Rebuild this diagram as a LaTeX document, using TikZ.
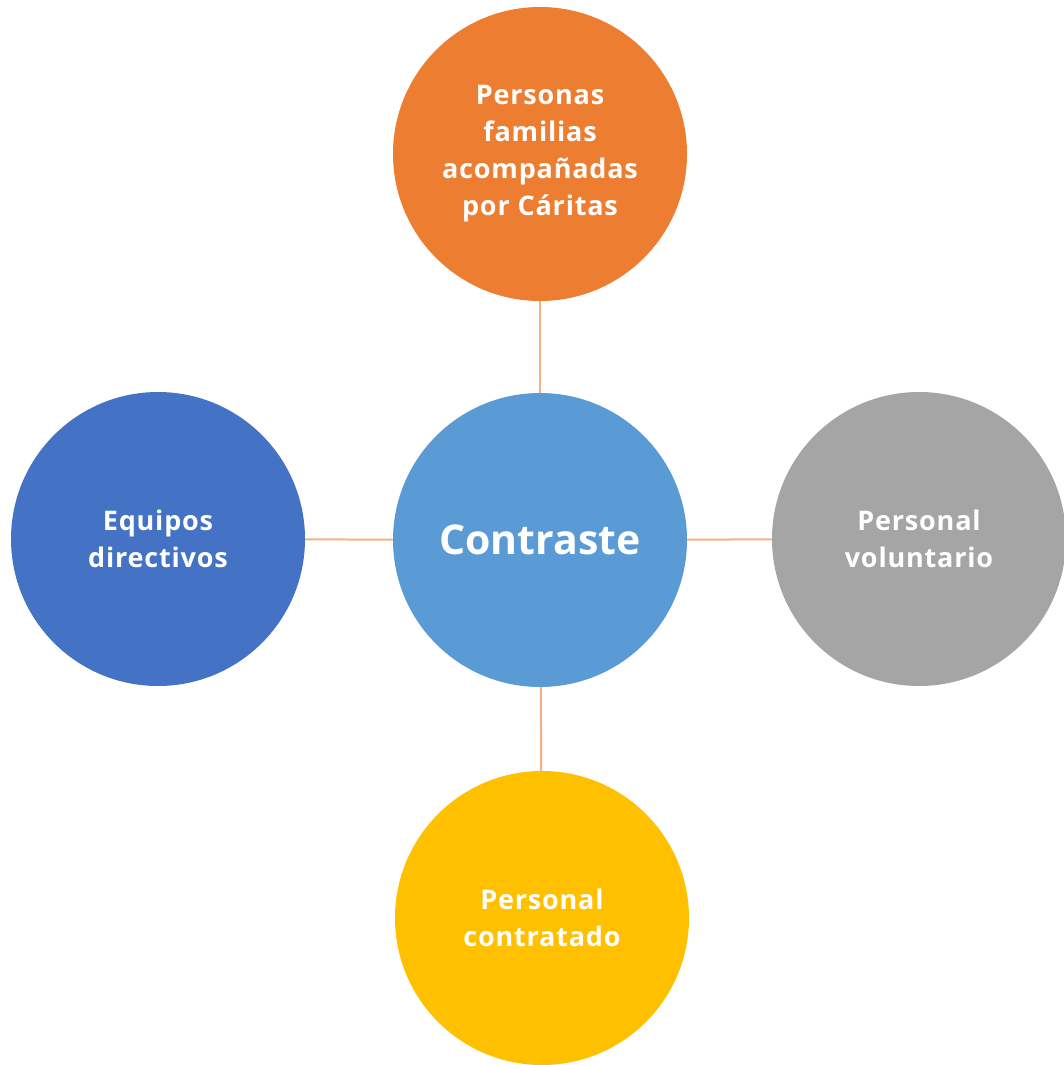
\documentclass[tikz,border=0pt]{standalone}
\usepackage{fontspec}
\setmainfont{Open Sans}
\newfontfamily\discfont[LetterSpace=3]{Open Sans}
\usepackage{xcolor}
\definecolor{hubblue}{HTML}{5B9BD5}
\definecolor{toporange}{HTML}{ED7D31}
\definecolor{leftblue}{HTML}{4472C4}
\definecolor{rightgray}{HTML}{A5A5A5}
\definecolor{bottomgold}{HTML}{FFC000}
\definecolor{linkpeach}{HTML}{F4B183}
\begin{document}
\begin{tikzpicture}[x=1pt, y=-1pt,
  disc/.style={circle, minimum size=294pt, inner sep=0pt, text=white,
    align=center, font=\discfont\bfseries\fontsize{27}{37}\selectfont},
  link/.style={draw=linkpeach, line width=2pt}]
    \useasboundingbox (0,0) rectangle (1063,1065);
    \node[disc, fill=hubblue, font=\bfseries\fontsize{41}{48}\selectfont](hub) at (540,540){Contraste};
    \node[disc, fill=toporange](fam) at (540,154){Personas\\familias\\acompañadas\\por Cáritas};
    \node[disc, fill=leftblue](dir) at (158,539){Equipos\\directivos};
    \node[disc, fill=rightgray](vol) at (919,539){Personal\\voluntario};
    \node[disc, fill=bottomgold](con) at (542,918){Personal\\contratado};
    \draw[link] (hub) -- (fam);
    \draw[link] (hub) -- (dir);
    \draw[link] (hub) -- (vol);
    \draw[link] (hub) -- (con);
\end{tikzpicture}
\end{document}
